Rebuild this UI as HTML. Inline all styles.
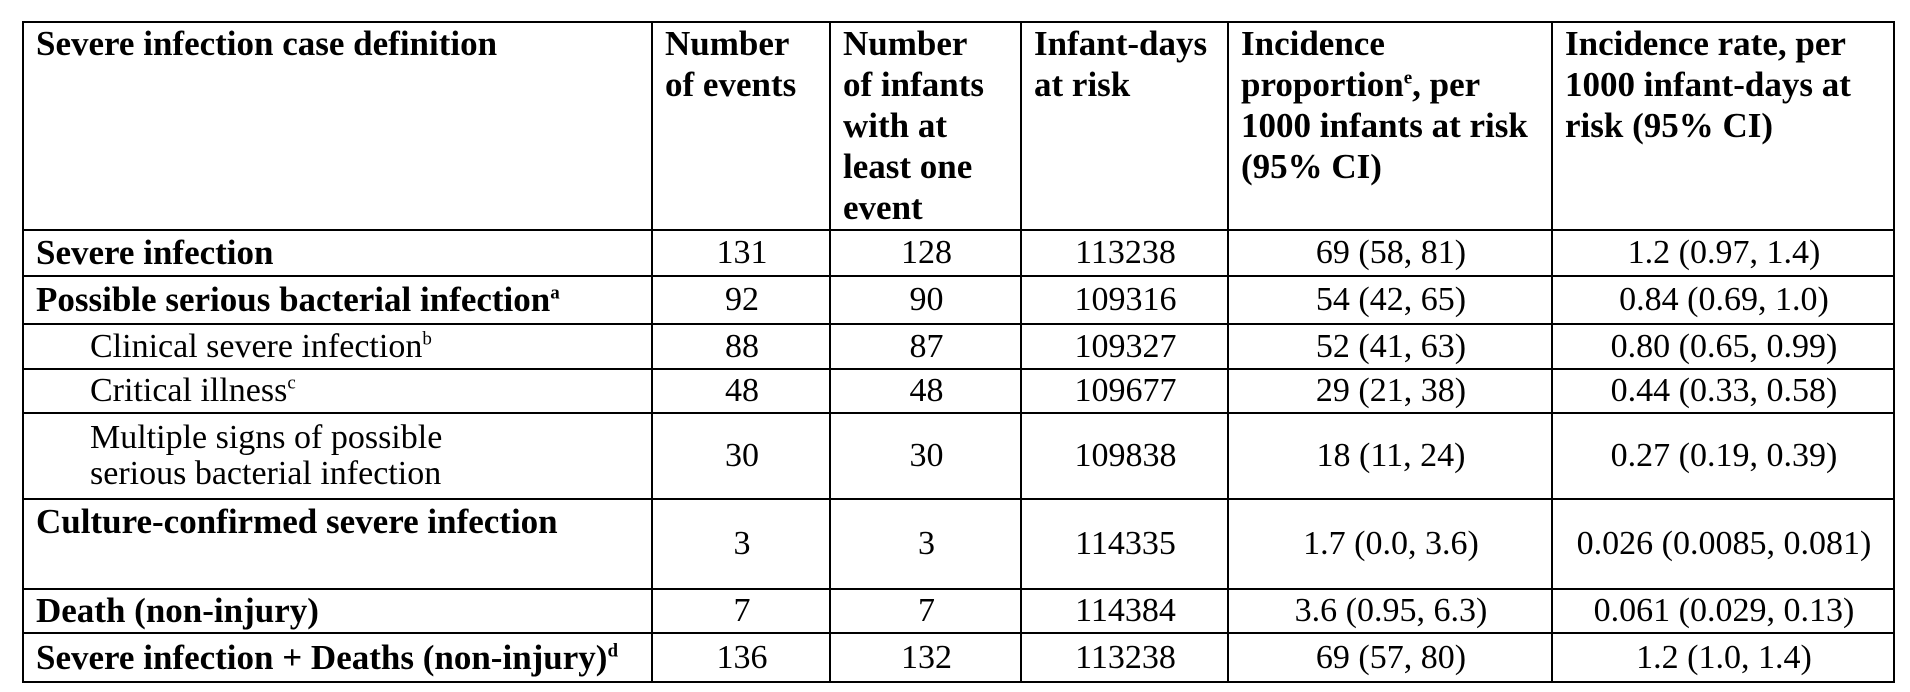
<!DOCTYPE html>
<html><head><meta charset="utf-8"><style>
html,body{margin:0;padding:0;background:#fff;width:1910px;height:692px;overflow:hidden}
table{position:absolute;left:22px;top:21px;border-collapse:collapse;table-layout:fixed;font-family:"Liberation Serif",serif;font-size:34px;color:#000}
td{border:2px solid #000;padding:0 10px 0 12px;line-height:40px;vertical-align:middle;text-align:center;overflow:hidden;white-space:nowrap}
thead td{font-weight:bold;text-align:left;vertical-align:top;padding-top:0;font-size:35px;line-height:41px}
td.l{text-align:left}
td.b{font-weight:bold;font-size:35px}
td.ind{padding-left:66px;line-height:36px}
td.top{vertical-align:top;padding-top:2px}
sup{font-size:19px;vertical-align:super;line-height:0}
</style></head><body>
<table>
<colgroup><col style="width:629px"><col style="width:178px"><col style="width:191px"><col style="width:207px"><col style="width:324px"><col style="width:342px"></colgroup>
<thead><tr style="height:208px">
<td>Severe infection case definition</td>
<td>Number<br>of events</td>
<td>Number<br>of infants<br>with at<br>least one<br>event</td>
<td>Infant-days<br>at risk</td>
<td>Incidence<br>proportion<sup>e</sup>, per<br>1000 infants at risk<br>(95% CI)</td>
<td>Incidence rate, per<br>1000 infant-days at<br>risk (95% CI)</td>
</tr></thead>
<tbody>
<tr style="height:46px"><td class="l b">Severe infection</td><td>131</td><td>128</td><td>113238</td><td>69 (58, 81)</td><td>1.2 (0.97, 1.4)</td></tr>
<tr style="height:48px"><td class="l b">Possible serious bacterial infection<sup>a</sup></td><td>92</td><td>90</td><td>109316</td><td>54 (42, 65)</td><td>0.84 (0.69, 1.0)</td></tr>
<tr style="height:45px"><td class="l ind">Clinical severe infection<sup>b</sup></td><td>88</td><td>87</td><td>109327</td><td>52 (41, 63)</td><td>0.80 (0.65, 0.99)</td></tr>
<tr style="height:44px"><td class="l ind">Critical illness<sup>c</sup></td><td>48</td><td>48</td><td>109677</td><td>29 (21, 38)</td><td>0.44 (0.33, 0.58)</td></tr>
<tr style="height:86px"><td class="l ind">Multiple signs of possible<br>serious bacterial infection</td><td>30</td><td>30</td><td>109838</td><td>18 (11, 24)</td><td>0.27 (0.19, 0.39)</td></tr>
<tr style="height:90px"><td class="l b top">Culture-confirmed severe infection</td><td>3</td><td>3</td><td>114335</td><td>1.7 (0.0, 3.6)</td><td>0.026 (0.0085, 0.081)</td></tr>
<tr style="height:44px"><td class="l b">Death (non-injury)</td><td>7</td><td>7</td><td>114384</td><td>3.6 (0.95, 6.3)</td><td>0.061 (0.029, 0.13)</td></tr>
<tr style="height:49px"><td class="l b">Severe infection + Deaths (non-injury)<sup>d</sup></td><td>136</td><td>132</td><td>113238</td><td>69 (57, 80)</td><td>1.2 (1.0, 1.4)</td></tr>
</tbody></table>
</body></html>
